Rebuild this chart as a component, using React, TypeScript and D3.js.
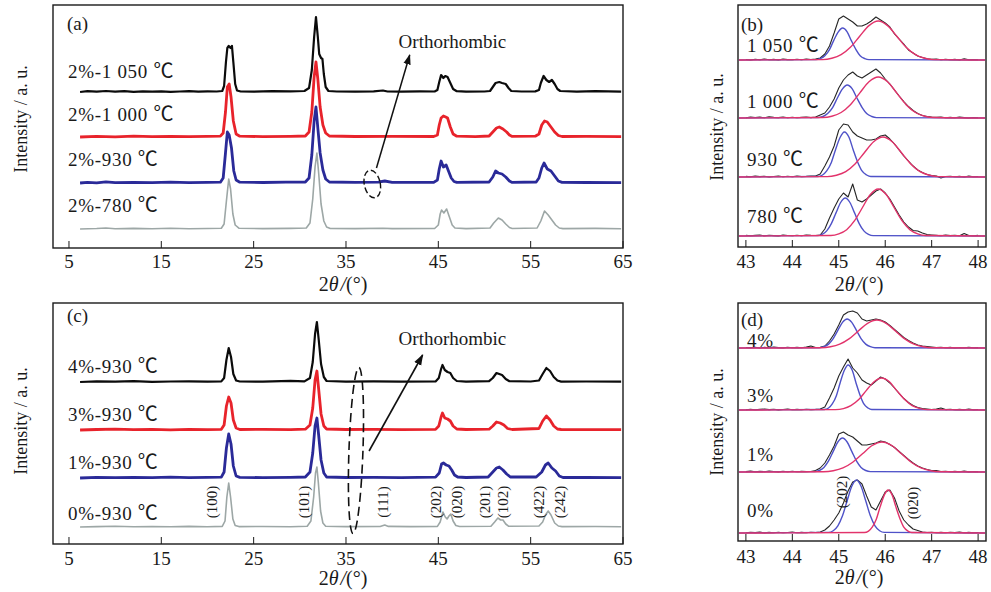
import React from 'react';
import * as d3 from 'd3';

type Pt = [number, number];

const FONT = '"Liberation Serif", "Times New Roman", "DejaVu Serif", serif';
const CJK = '"Noto Sans CJK SC", "Noto Sans CJK JP", sans-serif';

// ---- tick values ----
const wideTicks = [5, 15, 25, 35, 45, 55, 65];
const narrowTicks = [43, 44, 45, 46, 47, 48];

// ---- (a) 2% doped, different sintering temperatures (2θ, a.u. above own baseline) ----
const aLabels = ['2%-1 050 ℃', '2%-1 000 ℃', '2%-930 ℃', '2%-780 ℃'];
const aOffsets = [156, 111, 65, 19];
const a1050: Pt[] = [[6.2,0],[7,0.8],[8,0.3],[9,1],[10,0.4],[11,0.8],[12,0.2],[13,0.6],[14,0.3],[15,0.7],[16,0.2],[17,0.5],[18,0.8],[19,0.3],[20,0.6],[21,0.5],[21.6,1],[21.8,6],[22.0,30],[22.15,44],[22.3,46],[22.5,44],[22.65,46],[22.8,30],[23.0,8],[23.2,1.5],[23.6,0.5],[25,0.4],[27,0.8],[29,0.6],[30.5,1],[31.0,4],[31.3,22],[31.55,55],[31.75,75],[31.95,55],[32.1,38],[32.3,34],[32.45,33],[32.6,18],[32.8,5],[33.1,1],[34,0.5],[36,0.3],[38,0.6],[39,1.5],[39.5,0.5],[41,0.3],[43,0.6],[44.6,0.5],[44.9,2],[45.1,10],[45.3,17],[45.55,14],[45.75,16],[46.0,15],[46.3,9],[46.6,3],[47,0.8],[48,0.3],[50,0.5],[50.6,1],[50.9,5],[51.2,9],[51.6,10],[51.9,9],[52.3,8],[52.6,4],[52.9,1],[54,0.5],[55.5,0.6],[55.9,2],[56.1,9],[56.4,16],[56.7,12],[57.0,10],[57.3,12],[57.6,8],[57.9,3],[58.2,1],[60,0.4],[62,0.8],[64.8,0.3]];
const a1000: Pt[] = [[6.2,0],[8,0.6],[10,0.2],[12,0.8],[14,0.4],[16,0.7],[18,0.3],[20,0.6],[21.4,0.8],[21.7,4],[21.95,25],[22.15,50],[22.35,53],[22.55,40],[22.8,16],[23.1,3],[23.5,0.8],[26,0.4],[29,0.7],[30.6,1],[31.0,5],[31.3,25],[31.55,60],[31.75,75],[31.95,58],[32.2,30],[32.5,12],[32.8,4],[33.2,1],[36,0.5],[40,0.6],[44.5,0.5],[44.9,2],[45.1,12],[45.3,19],[45.55,21],[45.8,20],[46.0,19],[46.3,10],[46.6,3],[47,0.8],[49,0.4],[50.5,1],[50.9,5],[51.3,9],[51.6,10],[52.0,8],[52.4,5],[52.7,2],[53,0.6],[55.5,0.8],[55.9,3],[56.2,12],[56.5,16],[56.8,15],[57.2,10],[57.6,5],[58,1.5],[58.4,0.5],[61,0.6],[64.8,0.3]];
const a930: Pt[] = [[6.2,0],[7,0.6],[8,0.2],[9,1.2],[10,0.4],[12,0.7],[14,0.3],[16,0.8],[18,0.4],[20,0.6],[21.4,0.8],[21.7,5],[21.95,30],[22.15,51],[22.35,48],[22.6,35],[22.85,12],[23.1,3],[23.5,0.8],[26,0.5],[28.5,0.8],[30.6,1],[31.0,5],[31.3,28],[31.55,62],[31.75,76],[31.95,55],[32.2,30],[32.5,13],[32.8,4],[33.2,1],[36,0.6],[38.5,0.8],[39.2,2],[40,0.6],[44.5,0.6],[44.9,3],[45.1,14],[45.3,22],[45.55,16],[45.85,18],[46.1,12],[46.4,5],[46.7,1.5],[47,0.6],[50.5,1],[50.9,6],[51.2,12],[51.5,10],[51.9,9],[52.3,6],[52.7,2],[53,0.6],[55.6,1],[55.9,5],[56.2,15],[56.45,20],[56.8,14],[57.2,12],[57.6,7],[58.0,2],[58.4,0.6],[61,0.5],[64.8,0.3]];
const a780: Pt[] = [[6.2,0],[8,0.5],[9,1],[10,0.3],[12,0.6],[14,0.2],[16,0.7],[18,0.3],[20,0.5],[21.5,0.7],[21.8,5],[22.05,28],[22.3,50],[22.5,40],[22.75,15],[23.0,4],[23.4,0.8],[26,0.4],[29,0.6],[30.7,1],[31.1,6],[31.4,30],[31.65,62],[31.85,76],[32.05,55],[32.3,25],[32.6,8],[32.9,2],[33.3,0.5],[36,0.4],[39,0.8],[40,0.4],[44.6,0.5],[45.0,4],[45.2,15],[45.35,19],[45.6,16],[45.9,20],[46.2,12],[46.5,4],[46.8,1],[48,0.4],[50.6,1],[51.0,6],[51.5,11],[51.9,9],[52.3,5],[52.7,1.5],[53,0.5],[55.7,1],[56.1,8],[56.5,18],[56.9,14],[57.3,9],[57.7,4],[58.1,1],[58.5,0.4],[62,0.6],[64.8,0.3]];

// ---- (c) different doping at 930 ℃ ----
const cLabels = ['4%-930 ℃', '3%-930 ℃', '1%-930 ℃', '0%-930 ℃'];
const cOffsets = [162, 114, 66, 17];
const c4: Pt[] = [[6.2,0],[8,0.6],[10,0.3],[12,0.8],[14,0.2],[16,0.5],[18,0.7],[20,0.3],[21.5,0.6],[21.8,4],[22.05,22],[22.3,34],[22.55,25],[22.8,8],[23.1,1.5],[23.5,0.5],[26,0.4],[28,0.8],[29,1.2],[30.5,0.6],[31.1,4],[31.4,20],[31.65,48],[31.85,60],[32.05,42],[32.3,18],[32.6,5],[32.9,1],[35,0.4],[38,0.6],[41,0.3],[44.7,0.5],[45.05,4],[45.3,13],[45.45,17],[45.7,12],[46.0,10],[46.3,9],[46.6,4],[47,1],[48,0.4],[50.5,0.8],[50.9,4],[51.3,9],[51.6,8],[51.9,7],[52.3,3],[52.7,0.8],[55,0.5],[55.9,1.5],[56.3,8],[56.7,14],[57.1,11],[57.5,5],[57.9,1.5],[58.3,0.4],[61,0.5],[64.8,0.3]];
const c3: Pt[] = [[6.2,0],[8,0.5],[10,0.8],[12,0.3],[14,0.6],[16,0.2],[18,0.7],[20,0.4],[21.5,0.7],[21.8,5],[22.05,24],[22.3,33],[22.55,27],[22.8,10],[23.1,2],[23.5,0.5],[26,0.6],[29,0.4],[30.6,0.8],[31.1,5],[31.4,22],[31.65,50],[31.85,59],[32.05,40],[32.3,16],[32.6,4],[32.9,1],[35,0.5],[38,0.7],[41,0.4],[44.7,0.6],[45.05,4],[45.3,13],[45.45,17],[45.7,12],[46.0,11],[46.3,9],[46.6,4],[47,1],[48,0.5],[50.5,0.8],[50.9,4],[51.3,8],[51.7,7],[52.1,5],[52.5,1.5],[53,0.5],[55.9,1.5],[56.3,9],[56.7,14],[57.1,10],[57.5,4],[57.9,1],[58.3,0.5],[61,0.4],[64.8,0.3]];
const c1: Pt[] = [[6.2,0],[8,0.6],[10,0.3],[12,0.7],[14,0.4],[16,0.8],[18,0.3],[20,0.6],[21.5,0.8],[21.8,6],[22.05,30],[22.3,44],[22.55,34],[22.8,12],[23.1,2],[23.5,0.6],[26,0.4],[29,0.7],[30.6,1],[31.1,6],[31.4,25],[31.65,52],[31.85,60],[32.05,42],[32.3,18],[32.6,5],[32.9,1],[35,0.5],[38,0.6],[41,0.4],[44.7,0.8],[45.1,5],[45.35,14],[45.55,15],[45.85,13],[46.15,12],[46.45,8],[46.75,3],[47.1,1],[48,0.5],[50.4,1],[50.9,6],[51.3,10],[51.6,11],[52.0,8],[52.4,4],[52.8,1],[55.6,1],[56.2,6],[56.6,13],[56.9,15],[57.3,10],[57.7,7],[58.1,2],[58.5,0.5],[61,0.5],[64.8,0.3]];
const c0: Pt[] = [[6.2,0],[8,0.4],[10,0.7],[12,0.3],[14,0.5],[16,0.2],[18,0.6],[20,0.3],[21.6,0.6],[21.9,6],[22.1,30],[22.3,44],[22.5,30],[22.75,8],[23.0,1.5],[23.4,0.4],[26,0.5],[29,0.3],[30.8,0.8],[31.2,6],[31.5,30],[31.7,54],[31.85,60],[32.0,45],[32.25,16],[32.5,4],[32.8,0.8],[35,0.4],[38.7,0.5],[39.2,2],[39.6,0.6],[42,0.4],[44.9,0.6],[45.2,5],[45.5,15],[45.75,10],[45.95,8],[46.15,11],[46.35,13],[46.6,6],[46.9,1.5],[47.3,0.5],[50.7,0.8],[51.1,5],[51.45,9],[51.75,7],[52.0,7],[52.3,3],[52.6,0.8],[55.9,1],[56.3,5],[56.6,12],[56.9,16],[57.2,12],[57.6,4],[58.0,1],[58.4,0.4],[62,0.5],[64.8,0.3]];
const millerLabels = ['(100)', '(101)', '(111)', '(202)', '(020)', '(201)', '(102)', '(422)', '(242)'];
const millerAngles = [20.5, 30.4, 39.0, 44.75, 47.0, 50.1, 52.0, 55.9, 58.2];

// ---- (b),(d) fine scans 43–48° at 0.1° step ----
const fineAngles = d3.range(51).map(i => +(43 + i * 0.1).toFixed(1));

const bLabels = ['1 050 ℃', '1 000 ℃', '930 ℃', '780 ℃'];
const bOffsets = [187, 129, 70, 11];
const b1050 = [0.5,0,0.8,0.2,1,0.3,0.6,0,0.9,0.4, 0.2,0.8,0.3,1,0.5,1,2,6,14,27, 41,44,41,38,34,34,36,39,43,40, 37,33,26,21,16,10,7,4,2.5,1.2, 0.8,1,0.3,0.8,0.2,0.6,0,1.2,0.3,0.5,0.2];
const b1000 = [0.3,1,0.5,0.9,0.2,1.2,0.6,0.4,1,0.3, 0.8,0.2,0.6,1,0.4,1,3,5,11,19, 30,38,43,46,42,40,43,46,49,45, 39,34,28,22,16.5,11.5,7.5,4.5,2.5,1.5, 1,0.8,1,0.3,0.6,0.2,0.9,0.4,0,0.5,0.3];
const b930 = [0.6,0.2,1,0.4,0.8,0,0.5,1,0.3,0.7, 0.2,0.9,0.4,0.6,1,1,3,11,20,31, 47,53,52,45,41,39,37,37,38,41, 42,38,33,27,21,16,11,7,4.5,2.5, 1.5,1,-1,0.5,0.8,0.2,0.6,0,0.9,0.3,0.5];
const b780 = [0.8,0.3,0.6,1,0.2,0.7,0.4,0,0.9,0.5, 0.3,0.8,0.2,1,0.6,0.5,1,7,18,28, 37,43,39,52,36,34,37,41,45,47, 43,37,29,21,14,9,5.5,5,3,1.5, 1,0.6,0.3,0.9,0.4,0.7,0.2,2.5,0.5,0.3,0.6];
// fitted components (blue: (202), red: (020))
const b1050Blue: Pt[] = [[42.85,0],[44.51,0.4],[44.6,1.4],[44.7,4.3],[44.8,10.4],[44.89,19.4],[44.99,28.2],[45.08,32],[45.18,28.2],[45.27,19.4],[45.37,10.4],[45.46,4.3],[45.56,1.4],[45.65,0.4],[48.15,0]];
const b1050Red: Pt[] = [[42.85,0],[44.65,0.4],[44.85,1.7],[45.05,5.3],[45.25,12.7],[45.45,23.7],[45.65,34.4],[45.85,39],[46.05,34.4],[46.25,23.7],[46.45,12.7],[46.65,5.3],[46.85,1.7],[47.05,0.4],[48.15,0]];
const b1000Blue: Pt[] = [[42.85,0],[44.55,0.4],[44.66,1.5],[44.76,4.5],[44.87,10.7],[44.97,20],[45.08,29.1],[45.18,33],[45.29,29.1],[45.39,20],[45.5,10.7],[45.6,4.5],[45.71,1.5],[45.81,0.4],[48.15,0]];
const b1000Red: Pt[] = [[42.85,0],[44.65,0.5],[44.85,1.8],[45.05,5.5],[45.25,13.3],[45.45,24.9],[45.65,36.2],[45.85,41],[46.05,36.2],[46.25,24.9],[46.45,13.3],[46.65,5.5],[46.85,1.8],[47.05,0.5],[48.15,0]];
const b930Blue: Pt[] = [[42.85,0],[44.55,0.5],[44.65,2],[44.74,6.1],[44.84,14.6],[44.93,27.3],[45.03,39.7],[45.12,45],[45.22,39.7],[45.31,27.3],[45.41,14.6],[45.5,6.1],[45.6,2],[45.69,0.5],[48.15,0]];
const b930Red: Pt[] = [[42.85,0],[44.75,0.4],[44.95,1.8],[45.15,5.4],[45.35,13],[45.55,24.3],[45.75,35.3],[45.95,40],[46.15,35.3],[46.35,24.3],[46.55,13],[46.75,5.4],[46.95,1.8],[47.15,0.4],[48.15,0]];
const b780Blue: Pt[] = [[42.85,0],[44.54,0.4],[44.64,1.7],[44.74,5.1],[44.84,12.4],[44.94,23.1],[45.04,33.5],[45.14,38],[45.24,33.5],[45.34,23.1],[45.44,12.4],[45.54,5.1],[45.64,1.7],[45.74,0.4],[48.15,0]];
const b780Red: Pt[] = [[42.85,0],[44.83,0.5],[45.0,2.1],[45.17,6.3],[45.34,15.3],[45.51,28.5],[45.68,41.5],[45.85,47],[46.02,41.5],[46.19,28.5],[46.36,15.3],[46.53,6.3],[46.7,2.1],[46.87,0.5],[48.15,0]];

const dLabels = ['4%', '3%', '1%', '0%'];
const dOffsets = [193, 131, 69, 8];
const d4 = [0.5,0.2,0.8,0,0.6,0.3,0.9,0.4,0.1,0.7, 0.3,0.6,0.2,0.9,2,0.5,0.8,2,7,14, 23,33,36,37,35,29,27,28,29,28, 26,22.5,18.5,14.5,10.5,7.5,5,3,2,1.5, 1,0.5,0.8,0.2,0.6,0,0.5,0.3,0.8,0.2,0.4];
const d3pct = [0.3,0.8,0.2,0.6,1,0.4,0.7,0.1,0.5,0.9, 0.2,0.6,0.3,0.8,0.4,0.6,1,3,12,22, 34,43,51,42,37,30,27,25,29,33, 31,27,22,16.5,11.5,7.5,4.5,2.5,1.5,1, 0.5,1,2,0.4,0.8,0.2,0.6,0.3,0.9,0.2,0.5];
const d1 = [0.4,0.9,0.2,0.6,0.3,1,0.5,0.1,0.7,0.3, 0.8,0.2,0.6,0.4,0.5,1.5,4,9,17,26, 38,40,37,35,31,27,27,28,29,31, 30,27.5,24.5,20.5,16.5,12.5,9,6,4,2.5, 1.5,1.5,0.5,0.8,0.2,0.6,0.3,0.9,0.1,0.5,0.3];
const d0 = [0.2,0.7,0.4,0.9,0.1,0.6,0.3,0.8,0.2,0.5, 0.9,0.3,0.6,0.2,0.8,0.5,1,3,7,13, 20,30,42,51,53,49,37,26,23,32, 41,43,35,22,13,8,4,2.5,1,0.5, 0.8,0.3,0.6,0.2,0.7,0.4,0.9,0.3,0.6,0.2,0.5];
const d4Blue: Pt[] = [[42.85,0],[44.58,0.3],[44.68,1.3],[44.78,3.9],[44.88,9.4],[44.98,17.6],[45.08,25.6],[45.18,29],[45.28,25.6],[45.38,17.6],[45.48,9.4],[45.58,3.9],[45.68,1.3],[45.78,0.3],[48.15,0]];
const d4Red: Pt[] = [[42.85,0],[44.62,0.3],[44.82,1.2],[45.02,3.8],[45.22,9.1],[45.42,17],[45.62,24.7],[45.82,28],[46.02,24.7],[46.22,17],[46.42,9.1],[46.62,3.8],[46.82,1.2],[47.02,0.3],[48.15,0]];
const d3Blue: Pt[] = [[42.85,0],[44.69,0.5],[44.78,2],[44.86,6.1],[44.95,14.6],[45.03,27.3],[45.12,39.7],[45.2,45],[45.29,39.7],[45.37,27.3],[45.46,14.6],[45.54,6.1],[45.63,2],[45.71,0.5],[48.15,0]];
const d3Red: Pt[] = [[42.85,0],[44.93,0.4],[45.1,1.4],[45.26,4.3],[45.43,10.4],[45.59,19.4],[45.76,28.2],[45.92,32],[46.09,28.2],[46.25,19.4],[46.42,10.4],[46.58,4.3],[46.75,1.4],[46.91,0.4],[48.15,0]];
const d1Blue: Pt[] = [[42.85,0],[44.48,0.4],[44.58,1.5],[44.68,4.6],[44.78,11.1],[44.88,20.6],[44.98,30],[45.08,34],[45.18,30],[45.28,20.6],[45.38,11.1],[45.48,4.6],[45.58,1.5],[45.68,0.4],[48.15,0]];
const d1Red: Pt[] = [[42.85,0],[44.67,0.3],[44.88,1.3],[45.09,4.1],[45.3,9.8],[45.51,18.2],[45.72,26.5],[45.93,30],[46.14,26.5],[46.35,18.2],[46.56,9.8],[46.77,4.1],[46.98,1.3],[47.19,0.3],[48.15,0]];
const d0Blue: Pt[] = [[42.85,0],[44.78,0.6],[44.88,2.3],[44.98,7.2],[45.08,17.2],[45.18,32.2],[45.28,46.7],[45.38,53],[45.48,46.7],[45.58,32.2],[45.68,17.2],[45.78,7.2],[45.88,2.3],[45.98,0.6],[48.15,0]];
const d0Red: Pt[] = [[42.85,0],[45.55,0.5],[45.64,1.9],[45.72,5.8],[45.81,14],[45.89,26.1],[45.98,37.9],[46.06,43],[46.15,37.9],[46.23,26.1],[46.32,14],[46.4,5.8],[46.49,1.9],[46.57,0.5],[48.15,0]];

const traceColors = ['#0b0b0b', '#e8232b', '#2a2a98', '#9da7a6'];
const traceWidths = [2.2, 2.8, 2.8, 1.6];
const fitBlue = '#4f52c8';
const fitRed = '#e2336b';

type Box = { left: number; top: number; right: number; bottom: number };
type Trace = { pts: Pt[]; offset: number; color: string; width: number; smooth?: boolean };

// sample label with the degree-Celsius sign set in a CJK face, as in the original
const Label = ({ x, y, text }: { x: number; y: number; text: string }) => {
  const parts = text.split('℃');
  return (
    <text x={x} y={y} fontSize={19} letterSpacing={0.7}>
      {parts[0]}
      {parts.length > 1 && <tspan fontFamily={CJK} fontSize={20}>℃</tspan>}
    </text>
  );
};

const Panel = ({ box, xDomain, ticks, traces, titleX, titleY, tickY, ylabelX, ylabelY, children }: {
  box: Box; xDomain: [number, number]; ticks: number[]; traces: Trace[];
  titleX: number; titleY: number; tickY: number; ylabelX: number; ylabelY: number;
  children?: (x: d3.ScaleLinear<number, number>, y: d3.ScaleLinear<number, number>) => React.ReactNode;
}) => {
  const x = d3.scaleLinear().domain(xDomain).range([box.left, box.right]);
  const y = d3.scaleLinear().domain([0, box.bottom - box.top]).range([box.bottom, box.top]);
  return (
    <g>
      {traces.map((t, i) => {
        const line = d3.line<Pt>()
          .x(d => x(d[0]))
          .y(d => y(d[1] + t.offset))
          .curve(t.smooth ? d3.curveMonotoneX : d3.curveLinear);
        return <path key={i} d={line(t.pts) || ''} fill="none" stroke={t.color}
          strokeWidth={t.width} strokeLinejoin="round" />;
      })}
      <rect x={box.left} y={box.top} width={box.right - box.left} height={box.bottom - box.top}
        fill="none" stroke="#1a1a1a" strokeWidth={1.4} />
      {ticks.map(t => (
        <g key={t}>
          <line x1={x(t)} x2={x(t)} y1={box.bottom} y2={box.bottom - 7} stroke="#1a1a1a" strokeWidth={1} />
          <text x={x(t)} y={tickY} textAnchor="middle" fontSize={19}>{t}</text>
        </g>
      ))}
      <text x={titleX} y={titleY} textAnchor="middle" fontSize={20}>
        2<tspan fontStyle="italic">θ</tspan><tspan fontStyle="italic" dx={2}>/</tspan>(°)
      </text>
      <text transform={`translate(${ylabelX},${ylabelY}) rotate(-90)`} textAnchor="middle" fontSize={18}>
        Intensity / a. u.
      </text>
      {children && children(x, y)}
    </g>
  );
};

const fineTrace = (vals: number[], offset: number): Trace => ({
  pts: vals.map((v, i) => [fineAngles[i], v] as Pt), offset, color: '#262626', width: 1.1,
});
const fitTrace = (pts: Pt[], offset: number, color: string): Trace => ({ pts, offset, color, width: 1.4, smooth: true });

export default function App() {
  const boxA = { left: 53, top: 5, right: 623, bottom: 248 };
  const boxC = { left: 53, top: 303, right: 623, bottom: 544 };
  const boxB = { left: 738, top: 5, right: 986, bottom: 247 };
  const boxD = { left: 738, top: 303, right: 986, bottom: 541 };
  const wideDomain: [number, number] = [3.27, 65];
  const narrowDomain: [number, number] = [42.83, 48.17];

  const aData = [a1050, a1000, a930, a780];
  const cData = [c4, c3, c1, c0];
  const aTraces = aData.map((pts, i) => ({ pts, offset: aOffsets[i], color: traceColors[i], width: traceWidths[i] }));
  const cTraces = cData.map((pts, i) => ({ pts, offset: cOffsets[i], color: traceColors[i], width: traceWidths[i] }));

  const bData = [b1050, b1000, b930, b780];
  const bBlue = [b1050Blue, b1000Blue, b930Blue, b780Blue];
  const bRed = [b1050Red, b1000Red, b930Red, b780Red];
  const bTraces: Trace[] = [];
  bData.forEach((v, i) => {
    bTraces.push(fineTrace(v, bOffsets[i]));
    bTraces.push(fitTrace(bBlue[i], bOffsets[i], fitBlue));
    bTraces.push(fitTrace(bRed[i], bOffsets[i], fitRed));
  });
  const dData = [d4, d3pct, d1, d0];
  const dBlue = [d4Blue, d3Blue, d1Blue, d0Blue];
  const dRed = [d4Red, d3Red, d1Red, d0Red];
  const dTraces: Trace[] = [];
  dData.forEach((v, i) => {
    dTraces.push(fineTrace(v, dOffsets[i]));
    dTraces.push(fitTrace(dBlue[i], dOffsets[i], fitBlue));
    dTraces.push(fitTrace(dRed[i], dOffsets[i], fitRed));
  });

  const aLabelY = [78, 121, 166, 212];
  const cLabelY = [373, 421, 469, 520];
  const bLabelY = [52, 108, 166, 223];
  const dLabelY = [347, 402, 461, 517];

  return (
    <svg width={991} height={592} style={{ display: 'block', position: 'absolute', left: 0, top: 0 }}
      fontFamily={FONT} fill="#1a1a1a">
      <defs>
        <marker id="arrow" viewBox="0 0 10 10" refX={9} refY={5} markerWidth={7} markerHeight={7} orient="auto">
          <path d="M0,1.5 L10,5 L0,8.5 z" fill="#111" />
        </marker>
      </defs>
      <rect width={991} height={592} fill="#fff" />

      <Panel box={boxA} xDomain={wideDomain} ticks={wideTicks} traces={aTraces}
        titleX={343} titleY={291} tickY={268} ylabelX={27} ylabelY={119}>
        {(x, y) => (
          <g>
            <text x={67} y={30} fontSize={19}>(a)</text>
            {aLabels.map((l, i) => <Label key={l} x={68} y={aLabelY[i]} text={l} />)}
            <ellipse cx={x(37.85)} cy={y(64)} rx={8} ry={14} fill="none" stroke="#111" strokeWidth={1.4}
              strokeDasharray="6,3" transform={`rotate(-12 ${x(37.85)} ${y(64)})`} />
            <line x1={x(38.3)} y1={y(80)} x2={x(41.9)} y2={y(193)} stroke="#111" strokeWidth={1.5} markerEnd="url(#arrow)" />
            <text x={x(40.7)} y={y(200)} fontSize={19}>Orthorhombic</text>
          </g>
        )}
      </Panel>

      <Panel box={boxC} xDomain={wideDomain} ticks={wideTicks} traces={cTraces}
        titleX={343} titleY={585} tickY={565} ylabelX={27} ylabelY={421}>
        {(x, y) => (
          <g>
            <text x={67} y={322} fontSize={19}>(c)</text>
            {cLabels.map((l, i) => <Label key={l} x={68} y={cLabelY[i]} text={l} />)}
            <ellipse cx={x(36.08)} cy={y(93.5)} rx={7} ry={83} fill="none" stroke="#111" strokeWidth={1.6}
              strokeDasharray="9,5" transform={`rotate(2 ${x(36.08)} ${y(93.5)})`} />
            <line x1={x(37.5)} y1={y(93)} x2={x(43.3)} y2={y(189)} stroke="#111" strokeWidth={1.6} markerEnd="url(#arrow)" />
            <text x={x(40.7)} y={y(199)} fontSize={19}>Orthorhombic</text>
            {millerLabels.map((m, i) => (
              <text key={m} transform={`translate(${x(millerAngles[i])},${y(42)}) rotate(-90)`}
                textAnchor="middle" dominantBaseline="central" fontSize={15}>{m}</text>
            ))}
          </g>
        )}
      </Panel>

      <Panel box={boxB} xDomain={narrowDomain} ticks={narrowTicks} traces={bTraces}
        titleX={859} titleY={291} tickY={268} ylabelX={723} ylabelY={127}>
        {() => (
          <g>
            <text x={741} y={31} fontSize={19}>(b)</text>
            {bLabels.map((l, i) => <Label key={l} x={747} y={bLabelY[i]} text={l} />)}
          </g>
        )}
      </Panel>

      <Panel box={boxD} xDomain={narrowDomain} ticks={narrowTicks} traces={dTraces}
        titleX={859} titleY={584} tickY={563} ylabelX={723} ylabelY={422}>
        {(x, y) => (
          <g>
            <text x={741} y={326} fontSize={19}>(d)</text>
            {dLabels.map((l, i) => <Label key={l} x={747} y={dLabelY[i]} text={l} />)}
            <text transform={`translate(${x(45.07)},${y(49)}) rotate(-90)`} textAnchor="middle"
              dominantBaseline="central" fontSize={15}>(202)</text>
            <text transform={`translate(${x(46.6)},${y(38)}) rotate(-90)`} textAnchor="middle"
              dominantBaseline="central" fontSize={15}>(020)</text>
          </g>
        )}
      </Panel>
    </svg>
  );
}
